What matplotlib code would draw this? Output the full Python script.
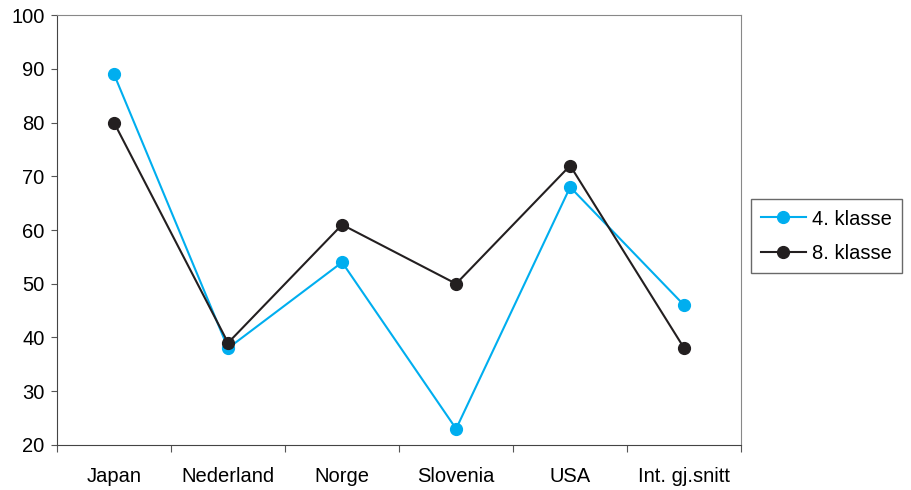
import matplotlib.pyplot as plt
import numpy as np

plt.rcParams['font.family'] = ['Liberation Sans', 'DejaVu Sans']

categories = ['Japan', 'Nederland', 'Norge', 'Slovenia', 'USA', 'Int. gj.snitt']
klasse4 = [89, 38, 54, 23, 68, 46]
klasse8 = [80, 39, 61, 50, 72, 38]

fig = plt.figure(figsize=(9.11, 4.9), dpi=100)
ax = fig.add_axes([0.0626, 0.092, 0.751, 0.877])

x = np.arange(len(categories))
ax.plot(x, klasse4, color='#00aeef', lw=1.5, marker='o', ms=8.5, label='4. klasse')
ax.plot(x, klasse8, color='#231f20', lw=1.5, marker='o', ms=8.5, label='8. klasse')

ax.set_xlim(-0.5, len(categories) - 0.5)
ax.set_ylim(20, 100)
ax.set_yticks(range(20, 101, 10))
ax.set_xticks(np.arange(-0.5, len(categories), 1))
ax.set_xticklabels([])
ax.set_xticks(x, minor=True)
ax.set_xticklabels(categories, minor=True)
ax.tick_params(axis='x', which='minor', length=0, pad=16, labelsize=14.5)
ax.tick_params(axis='x', which='major', direction='out', length=5, color='#555555')
ax.tick_params(axis='y', direction='out', length=4, pad=5, labelsize=14.5, color='#555555')

for side in ['top', 'right']:
    ax.spines[side].set_color('#888888')
for side in ['left', 'bottom']:
    ax.spines[side].set_color('#444444')

leg = ax.legend(loc='center left', bbox_to_anchor=(1.0146, 0.486), fontsize=14.5,
                frameon=True, fancybox=False, edgecolor='#444444',
                handlelength=2.2, borderpad=0.5, labelspacing=0.75, handletextpad=0.3,
                borderaxespad=0)
leg.get_frame().set_linewidth(1.0)

fig.savefig('out.png', dpi=100)
